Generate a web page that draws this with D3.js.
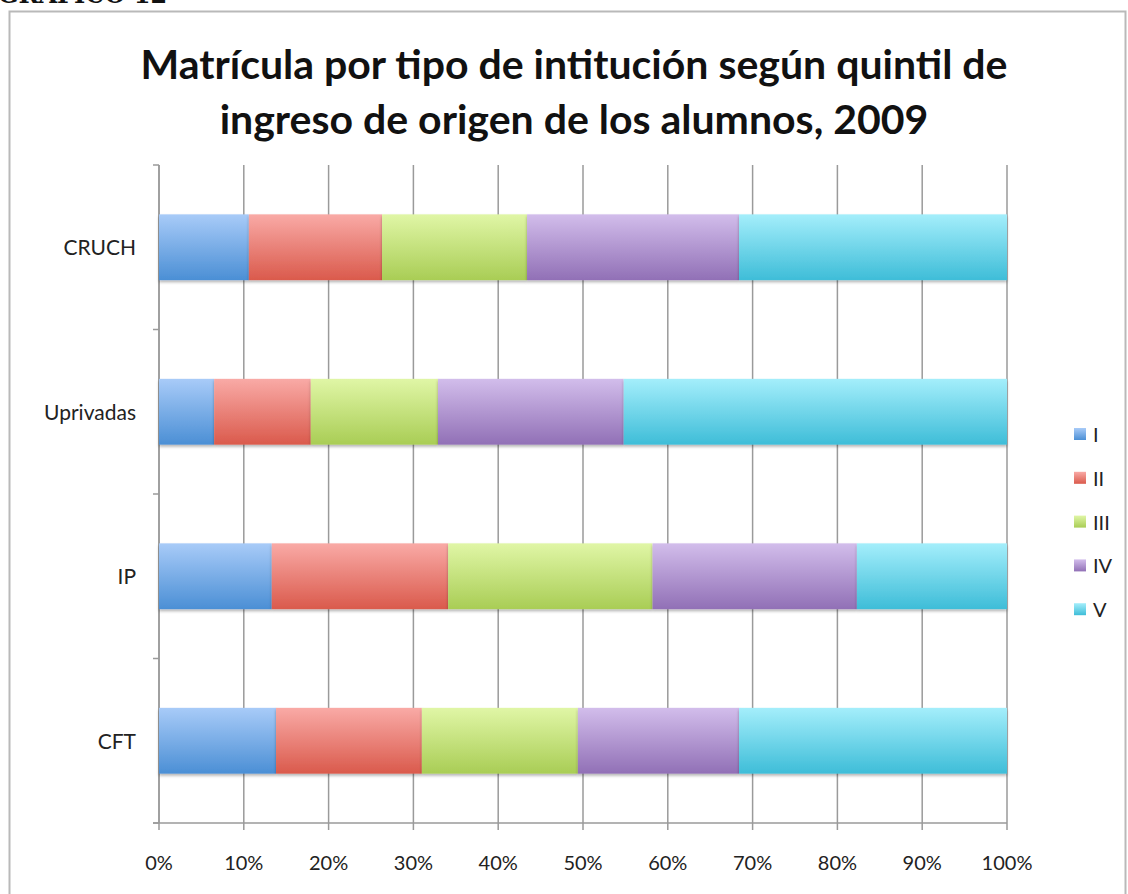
<!DOCTYPE html>
<html>
<head>
<meta charset="utf-8">
<script src="https://cdn.jsdelivr.net/npm/d3@7"></script>
<style>
  body { margin: 0; background: #fff; }
  svg { display: block; }
</style>
</head>
<body>
<div id="chart"></div>
<script>
// data (percent of enrolment by quintile)
var categories = ["CRUCH", "Uprivadas", "IP", "CFT"];
var quintiles = ["I", "II", "III", "IV", "V"];
var serieI   = [10.6,  6.5, 13.3, 13.8];
var serieII  = [15.7, 11.4, 20.8, 17.2];
var serieIII = [17.1, 15.0, 24.1, 18.4];
var serieIV  = [25.0, 21.9, 24.1, 19.0];
var serieV   = [31.6, 45.2, 17.7, 31.6];
var xTicks = [0, 10, 20, 30, 40, 50, 60, 70, 80, 90, 100];

var colors = {
	I:   ["#a8cbf8", "#4b8fd5"],
	II:  ["#f9aaa6", "#da5a4c"],
	III: ["#e0f6a6", "#a9cd55"],
	IV:  ["#d2bdeb", "#9170b6"],
	V:   ["#a4eefb", "#3ebdd8"]
};

var width = 1128, height = 894;
var margin = {left: 159, right: 121, top: 165, bottom: 71};
var font = "Lato, 'Open Sans', sans-serif";

var svg = d3.select("#chart").append("svg")
	.attr("width", width)
	.attr("height", height);

var defs = svg.append("defs");
quintiles.forEach(function(q) {
	var g = defs.append("linearGradient")
		.attr("id", "grad-" + q)
		.attr("x1", 0).attr("y1", 0).attr("x2", 0).attr("y2", 1);
	g.append("stop").attr("offset", "0%").attr("stop-color", colors[q][0]);
	g.append("stop").attr("offset", "100%").attr("stop-color", colors[q][1]);
});
var shadow = defs.append("filter").attr("id", "shadow")
	.attr("x", "-5%").attr("y", "-20%").attr("width", "110%").attr("height", "150%");
shadow.append("feDropShadow")
	.attr("dx", 0).attr("dy", 2).attr("stdDeviation", 1.5)
	.attr("flood-color", "#000").attr("flood-opacity", 0.3);

// header of the page, cut off at the top
svg.append("text")
	.attr("x", -2).attr("y", 3)
	.style("font-family", "'DejaVu Serif', serif")
	.style("font-weight", "bold")
	.style("font-size", "24px")
	.attr("fill", "#111")
	.text("GRÁFICO 12");

// frame
svg.append("rect")
	.attr("x", 9.5).attr("y", 11.5)
	.attr("width", 1116).attr("height", 900)
	.attr("fill", "none")
	.attr("stroke", "#b9b9b9")
	.attr("stroke-width", 2);

// title
var title = svg.append("text")
	.attr("text-anchor", "middle")
	.style("font-family", font)
	.style("font-weight", "bold")
	.style("font-size", "41px")
	.attr("fill", "#111");
title.append("tspan").attr("x", 574).attr("y", 79)
	.text("Matrícula por tipo de intitución según quintil de");
title.append("tspan").attr("x", 574).attr("y", 134)
	.text("ingreso de origen de los alumnos, 2009");

var x = d3.scaleLinear()
	.domain([0, 100])
	.range([margin.left, width - margin.right]);

var y = d3.scaleBand()
	.domain(categories)
	.range([margin.top, height - margin.bottom])
	.paddingInner(0.6)
	.paddingOuter(0.3);

var rows = categories.map(function(c, i) {
	return {cat: c, I: serieI[i], II: serieII[i], III: serieIII[i], IV: serieIV[i], V: serieV[i]};
});
var stacked = d3.stack().keys(quintiles)(rows);

var plotTop = margin.top, plotBottom = height - margin.bottom;

// vertical grid lines
svg.append("g")
	.selectAll("line")
	.data(xTicks)
	.enter().append("line")
		.attr("x1", function(d) { return x(d); })
		.attr("x2", function(d) { return x(d); })
		.attr("y1", plotTop)
		.attr("y2", plotBottom + 7)
		.attr("stroke", "#9a9a9a")
		.attr("stroke-width", 1.5);

// y axis line and ticks at band edges
var edges = d3.range(categories.length + 1).map(function(i) {
	return plotTop + i * (plotBottom - plotTop) / categories.length;
});
svg.append("line")
	.attr("x1", x(0)).attr("x2", x(0))
	.attr("y1", plotTop).attr("y2", plotBottom)
	.attr("stroke", "#9a9a9a").attr("stroke-width", 1.5);
svg.append("g")
	.selectAll("line")
	.data(edges)
	.enter().append("line")
		.attr("x1", x(0) - 6).attr("x2", x(0))
		.attr("y1", function(d) { return d; })
		.attr("y2", function(d) { return d; })
		.attr("stroke", "#9a9a9a").attr("stroke-width", 1.5);

// x axis line
svg.append("line")
	.attr("x1", x(0) - 6).attr("x2", x(100))
	.attr("y1", plotBottom).attr("y2", plotBottom)
	.attr("stroke", "#9a9a9a").attr("stroke-width", 1.5);

// bars
svg.append("g")
	.selectAll("g")
	.data(stacked)
	.enter().append("g")
		.attr("fill", function(d) { return "url(#grad-" + d.key + ")"; })
		.attr("filter", "url(#shadow)")
	.selectAll("rect")
	.data(function(d) { return d; })
	.enter().append("rect")
		.attr("x", function(d) { return x(d[0]); })
		.attr("y", function(d) { return y(d.data.cat); })
		.attr("width", function(d) { return x(d[1]) - x(d[0]); })
		.attr("height", y.bandwidth());

// x tick labels
svg.append("g")
	.selectAll("text")
	.data(xTicks)
	.enter().append("text")
		.attr("x", function(d) { return x(d); })
		.attr("y", plotBottom + 47)
		.attr("text-anchor", "middle")
		.style("font-family", font)
		.style("font-size", "20px")
		.attr("fill", "#222")
		.text(function(d) { return d + "%"; });

// category labels
svg.append("g")
	.selectAll("text")
	.data(categories)
	.enter().append("text")
		.attr("x", x(0) - 23)
		.attr("y", function(d) { return y(d) + y.bandwidth() / 2 + 8; })
		.attr("text-anchor", "end")
		.style("font-family", font)
		.style("font-size", "21px")
		.attr("fill", "#222")
		.text(function(d) { return d; });

// legend
var legend = svg.append("g")
	.selectAll("g")
	.data(quintiles)
	.enter().append("g")
		.attr("transform", function(d, i) { return "translate(1074," + (428 + i * 43.8) + ")"; });
legend.append("rect")
	.attr("width", 12).attr("height", 12)
	.attr("fill", function(d) { return "url(#grad-" + d + ")"; });
legend.append("text")
	.attr("x", 19).attr("y", 14)
	.style("font-family", font)
	.style("font-size", "20px")
	.attr("fill", "#222")
	.text(function(d) { return d; });
</script>
</body>
</html>
